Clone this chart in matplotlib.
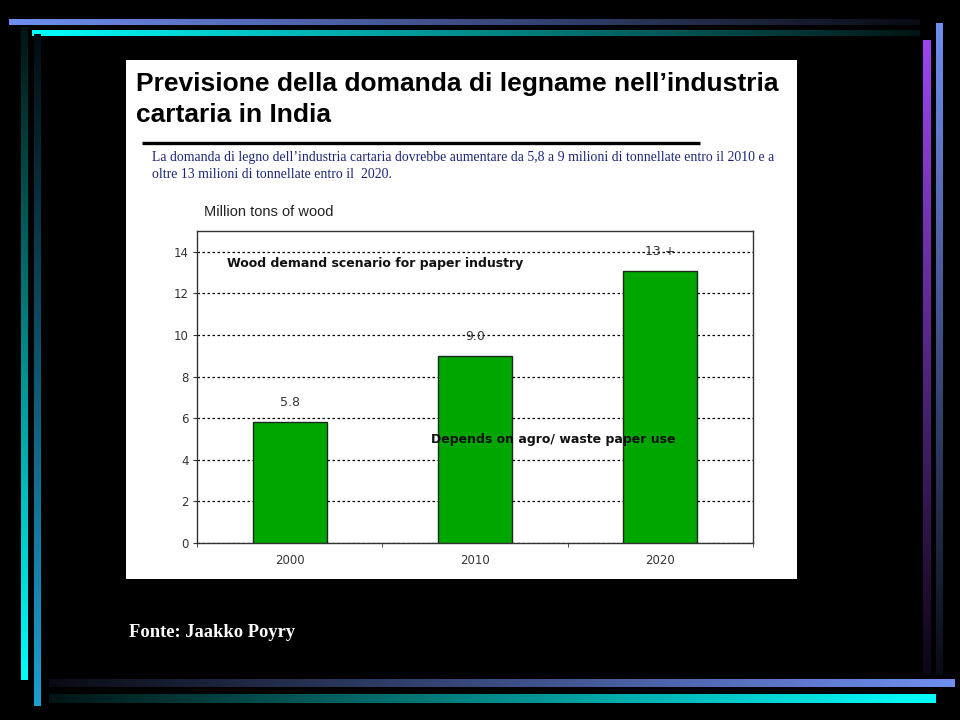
import numpy as np
import matplotlib
matplotlib.use("Agg")
import matplotlib.pyplot as plt
from matplotlib.colors import to_rgb

# data
years = ["2000", "2010", "2020"]
demand = [5.8, 9.0, 13.1]
value_labels = ["5.8", "9.0", "13 +"]
y_ticks = [0, 2, 4, 6, 8, 10, 12, 14]

title_lines = ["Previsione della domanda di legname nell\u2019industria", "cartaria in India"]
subtitle_lines = ["La domanda di legno dell\u2019industria cartaria dovrebbe aumentare da 5,8 a 9 milioni di tonnellate entro il 2010 e a",
                  "oltre 13 milioni di tonnellate entro il  2020."]
source = "Fonte: Jaakko Poyry"

fig = plt.figure(figsize=(9.6, 7.2), dpi=100)
fig.patch.set_facecolor("black")

# background layer in pixel coords
bg = fig.add_axes([0, 0, 1, 1])
bg.set_xlim(0, 960)
bg.set_ylim(720, 0)
bg.axis("off")
bg.set_facecolor("black")


def gradient_bar(x0, x1, y0, y1, color, horizontal=True, reverse=False):
    # bright color fading to black
    n = 256
    t = np.linspace(1, 0, n)
    if reverse:
        t = t[::-1]
    rgb = np.array(to_rgb(color))
    t = 0.08 + 0.92 * t
    img = t[:, None] * rgb[None, :]
    if horizontal:
        img = img[None, :, :]
    else:
        img = img[:, None, :]
    bg.imshow(img, extent=(x0, x1, y1, y0), aspect="auto", interpolation="bilinear", zorder=1)


# top bars
gradient_bar(9, 920, 19, 25, "#6f8ff2")
gradient_bar(32, 920, 30, 36, "#00ffff")
# left bars (dark on top, bright at bottom)
gradient_bar(21, 28, 27, 680, "#00ffff", horizontal=False, reverse=True)
gradient_bar(34, 41, 34, 706, "#1a9fd0", horizontal=False, reverse=True)
# right bars (bright on top)
gradient_bar(923, 931, 40, 675, "#9b45f2", horizontal=False)
gradient_bar(936, 943, 23, 675, "#6f8ff2", horizontal=False)
# bottom bars (dark left, bright right)
gradient_bar(49, 955, 679, 687, "#6f8ff2", reverse=True)
gradient_bar(49, 936, 694, 703, "#00ffff", reverse=True)

# white panel
bg.add_patch(plt.Rectangle((126, 60), 671, 519, facecolor="white", edgecolor="none", zorder=2))
bg.plot([142, 700], [143, 143], color="black", lw=2.4, zorder=3, solid_capstyle="butt")

for i, line in enumerate(title_lines):
    bg.text(136, 91 + 31 * i, line, fontsize=19, fontweight="bold", family="Liberation Sans",
            color="black", va="baseline", ha="left", zorder=4)
for i, line in enumerate(subtitle_lines):
    bg.text(152, 161 + 17 * i, line, fontsize=9.9, family="Liberation Serif",
            color="#1c2578", va="baseline", ha="left", zorder=4)
bg.text(204, 216, "Million tons of wood", fontsize=10.5, family="Liberation Sans",
        color="#222222", va="baseline", ha="left", zorder=4)
bg.text(129, 637, source, fontsize=13.3, fontweight="bold", family="Liberation Serif",
        color="white", va="baseline", ha="left", zorder=4)

# chart
ax = fig.add_axes([197 / 960, 1 - 543 / 720, 556 / 960, 312 / 720])
ax.set_facecolor("white")
x = np.arange(len(years))
bars = ax.bar(x, demand, width=0.4, color="#00a600", edgecolor="#1a2a1a", linewidth=1, zorder=3)
ax.set_xlim(-0.5, 2.5)
ax.set_ylim(0, 15)
ax.set_yticks(y_ticks)
ax.set_xticks(x)
ax.set_xticklabels(years)
ax.set_xticks([-0.5, 0.5, 1.5, 2.5], minor=True)
ax.tick_params(axis="x", which="major", length=0, pad=8, labelsize=8.5, labelcolor="#333333")
ax.tick_params(axis="x", which="minor", length=3, direction="out", color="#333333")
ax.tick_params(axis="y", length=3, direction="out", pad=3, labelsize=8.5, labelcolor="#333333", color="#333333")
ax.yaxis.grid(True, color="black", linestyle=(0, (2, 2)), linewidth=0.9, zorder=0)
ax.set_axisbelow(True)
for s in ax.spines.values():
    s.set_color("#333333")
    s.set_linewidth(1)

for xi, v, lab in zip(x, demand, value_labels):
    ax.annotate(lab, (xi, v), xytext=(0, 14), textcoords="offset points",
                ha="center", va="center", fontsize=9, color="#333333", zorder=4)

ax.text(0.054, 0.897, "Wood demand scenario for paper industry", transform=ax.transAxes,
        fontsize=9, fontweight="bold", color="#111111", ha="left", va="center", zorder=5)
ax.text(0.421, 0.333, "Depends on agro/ waste paper use", transform=ax.transAxes,
        fontsize=9, fontweight="bold", color="#111111", ha="left", va="center", zorder=5)

fig.savefig("out.png", dpi=100, facecolor="black")
